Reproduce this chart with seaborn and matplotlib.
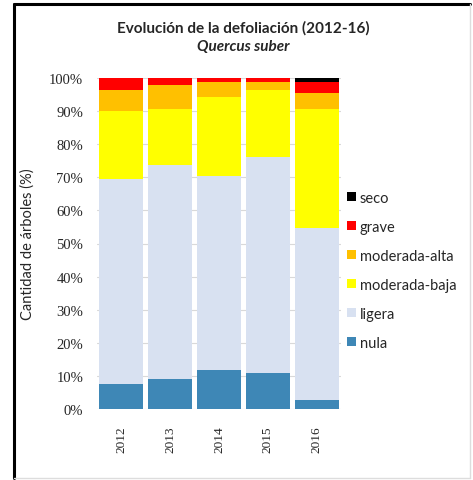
import matplotlib
matplotlib.use("Agg")
import matplotlib.pyplot as plt
import seaborn as sns
import pandas as pd
import numpy as np
from matplotlib.patches import Patch
from matplotlib.lines import Line2D

years = ["2012", "2013", "2014", "2015", "2016"]
categories = ["nula", "ligera", "moderada-baja", "moderada-alta", "grave", "seco"]
nula = [7.5, 9.1, 11.7, 10.8, 2.7]
ligera = [62.0, 64.6, 58.6, 65.4, 52.0]
moderada_baja = [20.4, 17.0, 24.0, 20.1, 36.0]
moderada_alta = [6.4, 7.3, 4.6, 2.6, 4.8]
grave = [3.7, 2.0, 1.1, 1.1, 3.4]
seco = [0.0, 0.0, 0.0, 0.0, 1.1]
colors = ["#3E87B6", "#D8E1F1", "#FFFF00", "#FFC000", "#FF0000", "#000000"]

series = [nula, ligera, moderada_baja, moderada_alta, grave, seco]
rows = []
for cat, vals in zip(categories, series):
    for y, v in zip(years, vals):
        rows.append({"year": y, "cat": cat, "val": v})
df = pd.DataFrame(rows)
df["cum"] = df.groupby("year")["val"].cumsum()

sns.set_style("white")
fig = plt.figure(figsize=(4.73, 4.81), dpi=100)
ax = fig.add_axes([97 / 473, 1 - 410 / 481, 244 / 473, 331 / 481])

for cat, col in reversed(list(zip(categories, colors))):
    sub = df[df["cat"] == cat]
    sns.barplot(data=sub, x="year", y="cum", order=years, color=col,
                width=0.9, ax=ax, saturation=1, linewidth=0, zorder=3)

ax.set_ylim(0, 100)
ax.set_xlim(-0.5, 4.5)
ax.set_yticks(np.arange(0, 101, 10))
ax.set_yticklabels([f"{t}%" for t in range(0, 101, 10)],
                   family="Liberation Serif", fontsize=10.5)
ax.set_xticks(range(len(years)))
ax.set_xticklabels(years, rotation=90, family="Liberation Serif", fontsize=9.5)
ax.tick_params(axis="x", pad=12, length=0)
ax.tick_params(axis="y", pad=10, length=0)
ax.grid(axis="y", color="#D9D9D9", linewidth=0.8, zorder=0)
ax.set_axisbelow(True)
for s in ax.spines.values():
    s.set_visible(False)
ax.set_xlabel("")
ax.set_ylabel("Cantidad de árboles (%)", family="Lato", fontsize=10.5, labelpad=10)

handles = [Patch(facecolor=c, edgecolor="none") for c in reversed(colors)]
labels = list(reversed(categories))
leg = fig.legend(handles, labels, loc="upper left",
                 bbox_to_anchor=(341 / 473, 1 - 186 / 481), frameon=False,
                 prop={"family": "Lato", "size": 10.5}, handlelength=0.6,
                 handleheight=0.6, handletextpad=0.3, labelspacing=1.03,
                 borderaxespad=0, borderpad=0.4)

fig.text(243 / 473, 1 - 28 / 481, "Evolución de la defoliación (2012-16)",
         ha="center", va="center", family="Lato", fontsize=11, weight="bold")
fig.text(243 / 473, 1 - 47 / 481, "Quercus suber", ha="center", va="center",
         family="Lato", fontsize=11, style="italic", weight="bold")

fig.add_artist(Line2D([14 / 473, 14 / 473], [1 - 5 / 481, 1 - 479 / 481],
                      color="black", linewidth=2.2, transform=fig.transFigure))
fig.add_artist(Line2D([14 / 473, 470 / 473], [1 - 5 / 481, 1 - 5 / 481],
                      color="black", linewidth=2.2, transform=fig.transFigure))
fig.add_artist(Line2D([470 / 473, 470 / 473], [1 - 5 / 481, 1 - 479 / 481],
                      color="#DDDDDD", linewidth=1, transform=fig.transFigure))
fig.add_artist(Line2D([14 / 473, 470 / 473], [1 - 479 / 481, 1 - 479 / 481],
                      color="#DDDDDD", linewidth=1, transform=fig.transFigure))

fig.savefig("out.png", dpi=100)
